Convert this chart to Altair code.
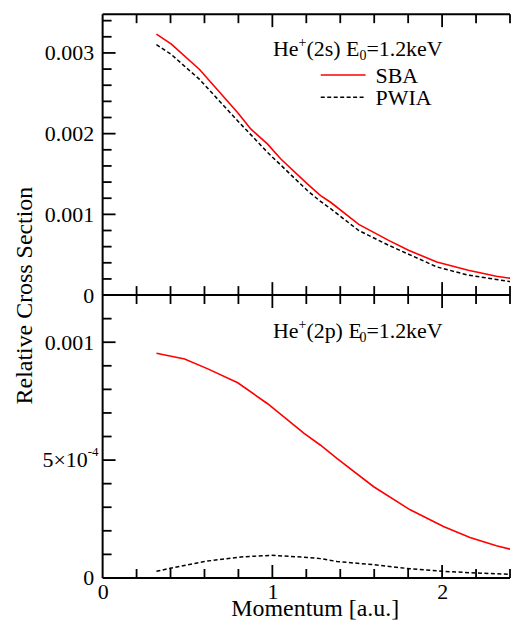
import altair as alt
import pandas as pd

FONT = "Liberation Serif"

# ---------------- data ----------------
# upper panel: He+(2s)
top_sba_x = [0.317, 0.405, 0.571, 0.796, 0.874, 0.972, 1.05, 1.206, 1.284, 1.343,
             1.509, 1.685, 1.802, 1.969, 2.154, 2.32, 2.45, 2.5]
top_sba_y = [0.003234, 0.00311, 0.002795, 0.00226, 0.002055, 0.00187, 0.001686,
             0.001377, 0.001233, 0.00115, 0.000875, 0.000678, 0.000555, 0.00041,
             0.000308, 0.000234, 0.000193, 0.00018]

top_pwia_x = [0.317, 0.405, 0.571, 0.796, 0.972, 1.206, 1.284, 1.343, 1.509, 1.685,
              1.969, 2.154, 2.32, 2.45, 2.5]
top_pwia_y = [0.003104, 0.00298, 0.002672, 0.002158, 0.001767, 0.001295, 0.00116,
              0.00107, 0.0008, 0.000617, 0.000349, 0.000247, 0.000193, 0.000152, 0.00014]

# lower panel: He+(2p)
bot_sba_x = [0.317, 0.483, 0.62, 0.796, 0.972, 1.187, 1.284, 1.38, 1.597, 1.812,
             2.008, 2.164, 2.32, 2.45, 2.5]
bot_sba_y = [0.000953, 0.000929, 0.000887, 0.000828, 0.000739, 0.000613, 0.000563,
             0.000507, 0.000387, 0.000289, 0.000218, 0.000172, 0.000137, 0.000113, 0.000106]

bot_pwia_x = [0.317, 0.424, 0.6, 0.815, 0.991, 1.206, 1.284, 1.38, 1.597, 1.812,
              2.008, 2.2, 2.45, 2.5]
bot_pwia_y = [0.000028, 0.000045, 0.00007, 0.000089, 0.000096, 0.000087, 0.000082,
              0.00007, 0.000056, 0.000039, 0.000028, 0.000021, 0.000014, 0.000013]

# tick positions
x_major = [1, 2]
x_minor = [0.2, 0.4, 0.6, 0.8, 1.2, 1.4, 1.6, 1.8, 2.2, 2.4]
top_y_major = [0.001, 0.002, 0.003]
top_y_minor = [0.0002, 0.0004, 0.0006, 0.0008, 0.0012, 0.0014, 0.0016, 0.0018,
               0.0022, 0.0024, 0.0026, 0.0028, 0.0032, 0.0034]
top_y_labels = [0, 0.001, 0.002, 0.003]
bot_y_major = [0.0005, 0.001]
bot_y_minor = [0.0001, 0.0002, 0.0003, 0.0004, 0.0006, 0.0007, 0.0008, 0.0009, 0.0011]
bot_y_labels = [0, 0.0005, 0.001]
x_labels = [0, 1, 2]

X_MAX = 2.4            # visible part of the momentum axis (the picture is cut at the right)
W = 409
H_TOP = 282
H_BOT = 284
MAJ, MIN = 13, 9


def one():
    return alt.Chart(pd.DataFrame({"a": [0]}))


def frame_layers(H):
    r = dict(color="black", strokeWidth=2)
    return [
        one().mark_rule(**r).encode(x=alt.value(0), y=alt.value(0), y2=alt.value(H)),
        one().mark_rule(**r).encode(x=alt.value(0), x2=alt.value(W), y=alt.value(0)),
        one().mark_rule(**r).encode(x=alt.value(0), x2=alt.value(W), y=alt.value(H)),
    ]


def tick_layers(X, Y, H, xmaj, xmin, ymaj, ymin):
    layers = []
    for vals, L in [(xmaj, MAJ), (xmin, MIN)]:
        base = alt.Chart(pd.DataFrame({"x": vals})).mark_rule(color="black", strokeWidth=1.8)
        layers.append(base.encode(x=X, y=alt.value(H), y2=alt.value(H - L)))
        layers.append(base.encode(x=X, y=alt.value(0), y2=alt.value(L)))
    for vals, L in [(ymaj, MAJ), (ymin, MIN)]:
        base = alt.Chart(pd.DataFrame({"y": vals})).mark_rule(color="black", strokeWidth=1.8)
        layers.append(base.encode(y=Y, x=alt.value(0), x2=alt.value(L)))
    return layers


def label_text(s, x, y, size=22, align="left"):
    return one().mark_text(
        font=FONT, fontSize=size, align=align, baseline="alphabetic", color="black"
    ).encode(x=alt.value(x), y=alt.value(y), text=alt.value(s))


def annotation(state, y):
    return [
        label_text("He", 171, y),
        label_text("+", 196.7, y - 9, size=14),
        label_text("(" + state + ") E", 204.6, y),
        label_text("0", 257.8, y + 4, size=14),
        label_text("=1.2keV", 264.8, y),
    ]


x_scale = alt.Scale(domain=[0, X_MAX], nice=False, zero=False)

# ---------------- upper panel ----------------
X_top = alt.X("x:Q", scale=x_scale, axis=None)
Y_top = alt.Y(
    "y:Q",
    scale=alt.Scale(domain=[0, 0.00348], nice=False, zero=False),
    axis=alt.Axis(values=top_y_labels,
                  labelExpr="datum.value == 0 ? '0' : format(datum.value, '.3f')",
                  ticks=False, domain=False, grid=False, title=None,
                  labelPadding=9, labelFontSize=22, minExtent=88, maxExtent=88),
)

top_layers = [
    alt.Chart(pd.DataFrame({"x": top_sba_x, "y": top_sba_y})).mark_line(
        color="#ff0000", strokeWidth=1.6, clip=True).encode(x=X_top, y=Y_top),
    alt.Chart(pd.DataFrame({"x": top_pwia_x, "y": top_pwia_y})).mark_line(
        color="black", strokeWidth=1.5, strokeDash=[4, 2.5], clip=True).encode(x=X_top, y=Y_top),
]
top_layers += tick_layers(X_top, Y_top, H_TOP, x_major, x_minor, top_y_major, top_y_minor)
top_layers += frame_layers(H_TOP)
top_layers += annotation("2s", 42)
# legend
top_layers += [
    one().mark_rule(color="#ff0000", strokeWidth=1.6).encode(
        x=alt.value(219), x2=alt.value(264), y=alt.value(61)),
    one().mark_rule(color="black", strokeWidth=1.5, strokeDash=[4, 2.5]).encode(
        x=alt.value(219), x2=alt.value(264), y=alt.value(83.5)),
    label_text("SBA", 274, 69),
    label_text("PWIA", 274, 91),
]
top = alt.layer(*top_layers).properties(width=W, height=H_TOP)

# ---------------- lower panel ----------------
X_bot = alt.X("x:Q", scale=x_scale,
              axis=alt.Axis(values=x_labels, format="d", labelFlush=False, ticks=False,
                            domain=False, grid=False, labelPadding=4, labelFontSize=22,
                            title="Momentum [a.u.]", titleFontSize=24, titleY=38,
                            titleX=213, titleAlign="center",
                            titleBaseline="alphabetic", titleFontWeight="normal"))
Y_bot = alt.Y(
    "y:Q",
    scale=alt.Scale(domain=[0, 0.0012], nice=False, zero=False),
    axis=alt.Axis(values=bot_y_labels,
                  labelExpr="datum.value == 0 ? '0' : (datum.value > 0.0007 ? '0.001' : '')",
                  ticks=False, domain=False, grid=False,
                  title="Relative Cross Section", titleX=-71, titleY=0, titleAngle=270,
                  titleAlign="center", titleBaseline="alphabetic", titleFontSize=24,
                  titleFontWeight="normal",
                  labelPadding=9, labelFontSize=22, minExtent=88, maxExtent=88),
)

bot_layers = [
    alt.Chart(pd.DataFrame({"x": bot_sba_x, "y": bot_sba_y})).mark_line(
        color="#ff0000", strokeWidth=1.6, clip=True).encode(x=X_bot, y=Y_bot),
    alt.Chart(pd.DataFrame({"x": bot_pwia_x, "y": bot_pwia_y})).mark_line(
        color="black", strokeWidth=1.5, strokeDash=[4, 2.5], clip=True).encode(x=X_bot, y=Y_bot),
]
bot_layers += tick_layers(X_bot, Y_bot, H_BOT, x_major, x_minor, bot_y_major, bot_y_minor)
bot_layers += frame_layers(H_BOT)
bot_layers += annotation("2p", 43)
# "5x10^-4" label
half = pd.DataFrame({"y": [0.0005]})
bot_layers += [
    alt.Chart(half).mark_text(font=FONT, fontSize=22, align="right", baseline="middle",
                              color="black").encode(
        x=alt.value(-15), y=Y_bot, text=alt.value("5×10")),
    alt.Chart(half).mark_text(font=FONT, fontSize=13, align="left", baseline="middle",
                              color="black", dy=-8).encode(
        x=alt.value(-15), y=Y_bot, text=alt.value("-4")),
]
bot = alt.layer(*bot_layers).properties(width=W, height=H_BOT)

chart = alt.vconcat(
    top, bot, spacing=0, bounds="flush",
    padding={"left": 4, "top": 4, "right": 0, "bottom": -2},
).resolve_scale(
    y="independent"
).configure_view(strokeWidth=0).configure_axis(
    labelFont=FONT, titleFont=FONT, labelColor="black", titleColor="black"
)

chart.save("out.html", embed_options={"renderer": "svg", "actions": False})
